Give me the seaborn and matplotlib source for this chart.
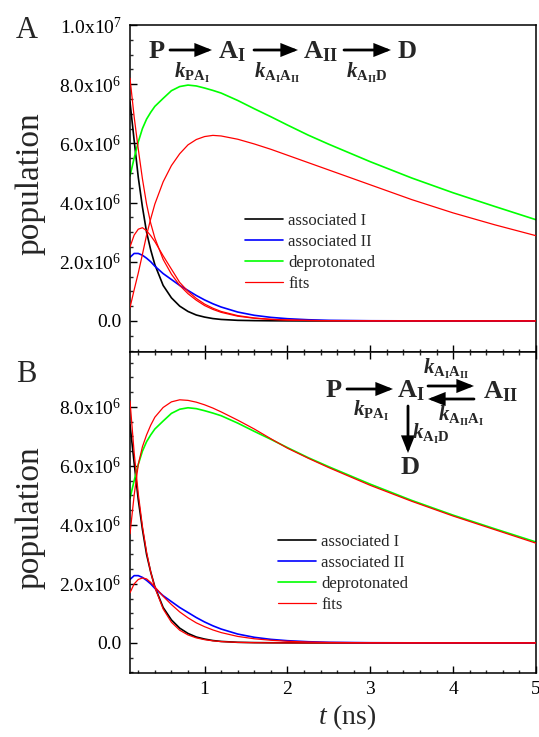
import matplotlib
matplotlib.use("Agg")
import matplotlib.pyplot as plt
from matplotlib.ticker import MultipleLocator, FuncFormatter
import numpy as np
import seaborn as sns

# ---------------- data (populations in units of 1e6) ----------------
t = [0.10, 0.15, 0.20, 0.25, 0.30, 0.35, 0.40, 0.50, 0.60, 0.70, 0.80, 0.90, 1.00,
     1.10, 1.20, 1.40, 1.60, 1.80, 2.00, 2.25, 2.50, 3.00, 3.50, 4.00, 4.50, 5.00]

assoc_I = [7.4, 6.1, 4.85, 3.85, 3.0, 2.4, 1.9, 1.2, 0.78, 0.5, 0.32, 0.2, 0.13,
           0.08, 0.05, 0.02, 0.01, 0.005, 0.002, 0, 0, 0, 0, 0, 0, 0]
assoc_II = [2.15, 2.28, 2.28, 2.22, 2.12, 2.0, 1.85, 1.6, 1.4, 1.2, 1.03, 0.86, 0.71,
            0.58, 0.47, 0.3, 0.19, 0.12, 0.075, 0.04, 0.02, 0.006, 0.002, 0, 0, 0]
deprot = [4.9, 5.5, 6.05, 6.5, 6.82, 7.05, 7.25, 7.52, 7.78, 7.92, 7.97, 7.94, 7.87,
          7.79, 7.7, 7.45, 7.17, 6.9, 6.62, 6.28, 5.97, 5.38, 4.83, 4.33, 3.87, 3.42]

# panel A fits
fitA_1 = [8.2, 6.9, 5.8, 4.8, 3.95, 3.3, 2.8, 2.08, 1.58, 1.2, 0.92, 0.7, 0.52,
          0.39, 0.29, 0.16, 0.09, 0.05, 0.03, 0.015, 0.008, 0.002, 0, 0, 0, 0]
fitA_2 = [2.5, 2.9, 3.1, 3.15, 3.05, 2.88, 2.68, 2.2, 1.75, 1.3, 1.0, 0.76, 0.57,
          0.43, 0.32, 0.18, 0.1, 0.055, 0.032, 0.016, 0.008, 0.002, 0, 0, 0, 0]
fitA_3 = [0.45, 1.05, 1.62, 2.25, 2.9, 3.45, 3.95, 4.7, 5.25, 5.65, 5.95, 6.13, 6.23,
          6.27, 6.25, 6.14, 5.98, 5.8, 5.6, 5.35, 5.1, 4.6, 4.1, 3.65, 3.25, 2.88]

# panel B fits
fitB_1 = [8.2, 6.45, 5.05, 3.95, 3.08, 2.4, 1.88, 1.15, 0.7, 0.43, 0.27, 0.17, 0.11,
          0.07, 0.045, 0.018, 0.007, 0.003, 0.001, 0, 0, 0, 0, 0, 0, 0]
fitB_2 = [1.7, 2.0, 2.15, 2.2, 2.17, 2.05, 1.9, 1.58, 1.3, 1.05, 0.85, 0.68, 0.55,
          0.44, 0.35, 0.22, 0.14, 0.09, 0.055, 0.03, 0.016, 0.005, 0.001, 0, 0, 0]
fitB_3 = [3.7, 5.0, 6.05, 6.65, 7.05, 7.38, 7.65, 7.98, 8.17, 8.24, 8.22, 8.16, 8.07,
          7.96, 7.83, 7.55, 7.25, 6.92, 6.6, 6.26, 5.94, 5.34, 4.8, 4.3, 3.84, 3.38]

x_ticks = [1, 2, 3, 4, 5]
labels = ["associated I", "associated II", "deprotonated", "fits"]
colors = ["#000000", "#0000ff", "#00ff00", "#ff0000"]

SCALE = 1e6

# ---------------- style ----------------
sns.set_style("ticks")
plt.rcParams["font.family"] = ["Liberation Serif", "DejaVu Serif"]
plt.rcParams["mathtext.fontset"] = "custom"
plt.rcParams["mathtext.rm"] = "Liberation Serif"
plt.rcParams["mathtext.it"] = "Liberation Serif:italic"
plt.rcParams["mathtext.bf"] = "Liberation Serif:bold"
plt.rcParams["mathtext.bfit"] = "Liberation Serif:italic:bold"

W, H = 539, 737
fig = plt.figure(figsize=(W / 100, H / 100), dpi=100)

def fx(px):
    return px / W

def fy(py):
    return 1 - py / H

left, right = 130, 536
axA = fig.add_axes([fx(left), fy(352), fx(right) - fx(left), fy(25) - fy(352)])
axB = fig.add_axes([fx(left), fy(673), fx(right) - fx(left), fy(352) - fy(673)])

def sci_fmt(v, pos):
    if abs(v) < 1:
        return "0.0"
    e = int(np.floor(np.log10(abs(v)) + 1e-9))
    m = v / 10 ** e
    return r"$\mathrm{%.1fx10}^{%d}$" % (m, e)

def draw(ax, fits, ylim, show_xlabels):
    tt = np.array(t)
    data = [assoc_I, assoc_II, deprot]
    for i, d in enumerate(data):
        sns.lineplot(x=tt, y=np.array(d) * SCALE, ax=ax, color=colors[i], lw=1.2,
                     label=labels[i], legend=False, zorder=2)
    for j, f in enumerate(fits):
        sns.lineplot(x=tt, y=np.array(f) * SCALE, ax=ax, color=colors[3], lw=0.9,
                     label=labels[3] if j == 0 else "_nolegend_", legend=False, zorder=3)
    ax.set_xlim(0.1, 5.0)
    ax.set_ylim(*ylim)
    ax.xaxis.set_major_locator(plt.FixedLocator(x_ticks))
    ax.xaxis.set_minor_locator(MultipleLocator(0.2))
    ax.yaxis.set_major_locator(MultipleLocator(2e6))
    ax.yaxis.set_minor_locator(MultipleLocator(5e5))
    ax.yaxis.set_major_formatter(FuncFormatter(sci_fmt))
    ax.tick_params(axis="both", which="major", direction="in", length=5, width=1.0,
                   labelsize=14, pad=6, colors="black")
    ax.tick_params(axis="both", which="minor", direction="in", length=2.5, width=1.0)
    ax.tick_params(axis="y", right=False)
    if not show_xlabels:
        ax.tick_params(axis="x", labelbottom=False)
    for s in ax.spines.values():
        s.set_visible(True)
        s.set_linewidth(1.1)
        s.set_color("black")
    ax.set_xlabel("")
    ax.set_ylabel("")

draw(axA, [fitA_1, fitA_2, fitA_3], (-1.05e6, 1.0e7), False)
draw(axB, [fitB_1, fitB_2, fitB_3], (-1.02e6, 9.86e6), True)
axB.tick_params(axis="x", which="both", top=True)

def make_legend(ax, x_px, y_px):
    h, l = ax.get_legend_handles_labels()
    order = [l.index(s) for s in labels]
    ax.legend([h[i] for i in order], [l[i] for i in order], loc="upper left",
              bbox_to_anchor=(fx(x_px), fy(y_px)), bbox_transform=fig.transFigure,
              frameon=False, fontsize=12, handlelength=2.3, handletextpad=0.3,
              labelspacing=0.3, borderpad=0, borderaxespad=0)

make_legend(axA, 245, 213)
make_legend(axB, 278, 534)

# labels
fig.text(fx(30), fy(184), "population", rotation=90, fontsize=24, ha="center", va="center")
fig.text(fx(30), fy(518), "population", rotation=90, fontsize=24, ha="center", va="center")
fig.text(fx(347), fy(717), r"$\mathit{t}$ (ns)", fontsize=20, ha="center", va="center")
fig.text(fx(27), fy(31), "A", fontsize=22, ha="center", va="center")
fig.text(fx(26), fy(375), "B", fontsize=22, ha="center", va="center")

# reaction schemes
SP = 19
KS = 15

def sp(x, y, s):
    fig.text(fx(x), fy(y), s, fontsize=SP, ha="left", va="center")

def kk(x, y, s):
    fig.text(fx(x), fy(y), s, fontsize=KS, ha="left", va="center")

def arrow(x0, y0, x1, y1):
    fig.add_artist(matplotlib.patches.FancyArrowPatch(
        (fx(x0), fy(y0)), (fx(x1), fy(y1)), transform=fig.transFigure,
        arrowstyle="-|>,head_length=0.75,head_width=0.3", lw=2.0, color="black",
        mutation_scale=12, shrinkA=0, shrinkB=0, joinstyle="miter"))

# scheme A
sp(148, 52, r"$\mathbf{P}$")
arrow(170, 50, 212, 50)
kk(174, 73, r"$\mathbfit{k}_{\mathbf{PA}_{\mathbf{I}}}$")
sp(218, 52, r"$\mathbf{A}_{\mathbf{I}}$")
arrow(254, 50, 298, 50)
kk(254, 73, r"$\mathbfit{k}_{\mathbf{A}_{\mathbf{I}}\mathbf{A}_{\mathbf{II}}}$")
sp(303, 52, r"$\mathbf{A}_{\mathbf{II}}$")
arrow(344, 50, 391, 50)
kk(346, 73, r"$\mathbfit{k}_{\mathbf{A}_{\mathbf{II}}\mathbf{D}}$")
sp(397, 52, r"$\mathbf{D}$")

# scheme B
sp(325, 391, r"$\mathbf{P}$")
arrow(347, 389, 393, 389)
kk(353, 411, r"$\mathbfit{k}_{\mathbf{PA}_{\mathbf{I}}}$")
sp(397, 391, r"$\mathbf{A}_{\mathbf{I}}$")
arrow(428, 386, 474, 386)
arrow(474, 399, 428, 399)
kk(423, 369, r"$\mathbfit{k}_{\mathbf{A}_{\mathbf{I}}\mathbf{A}_{\mathbf{II}}}$")
kk(438, 416, r"$\mathbfit{k}_{\mathbf{A}_{\mathbf{II}}\mathbf{A}_{\mathbf{I}}}$")
sp(483, 392, r"$\mathbf{A}_{\mathbf{II}}$")
arrow(408, 406, 408, 453)
kk(412, 434, r"$\mathbfit{k}_{\mathbf{A}_{\mathbf{I}}\mathbf{D}}$")
sp(400, 468, r"$\mathbf{D}$")

fig.savefig("out.png", dpi=100)
